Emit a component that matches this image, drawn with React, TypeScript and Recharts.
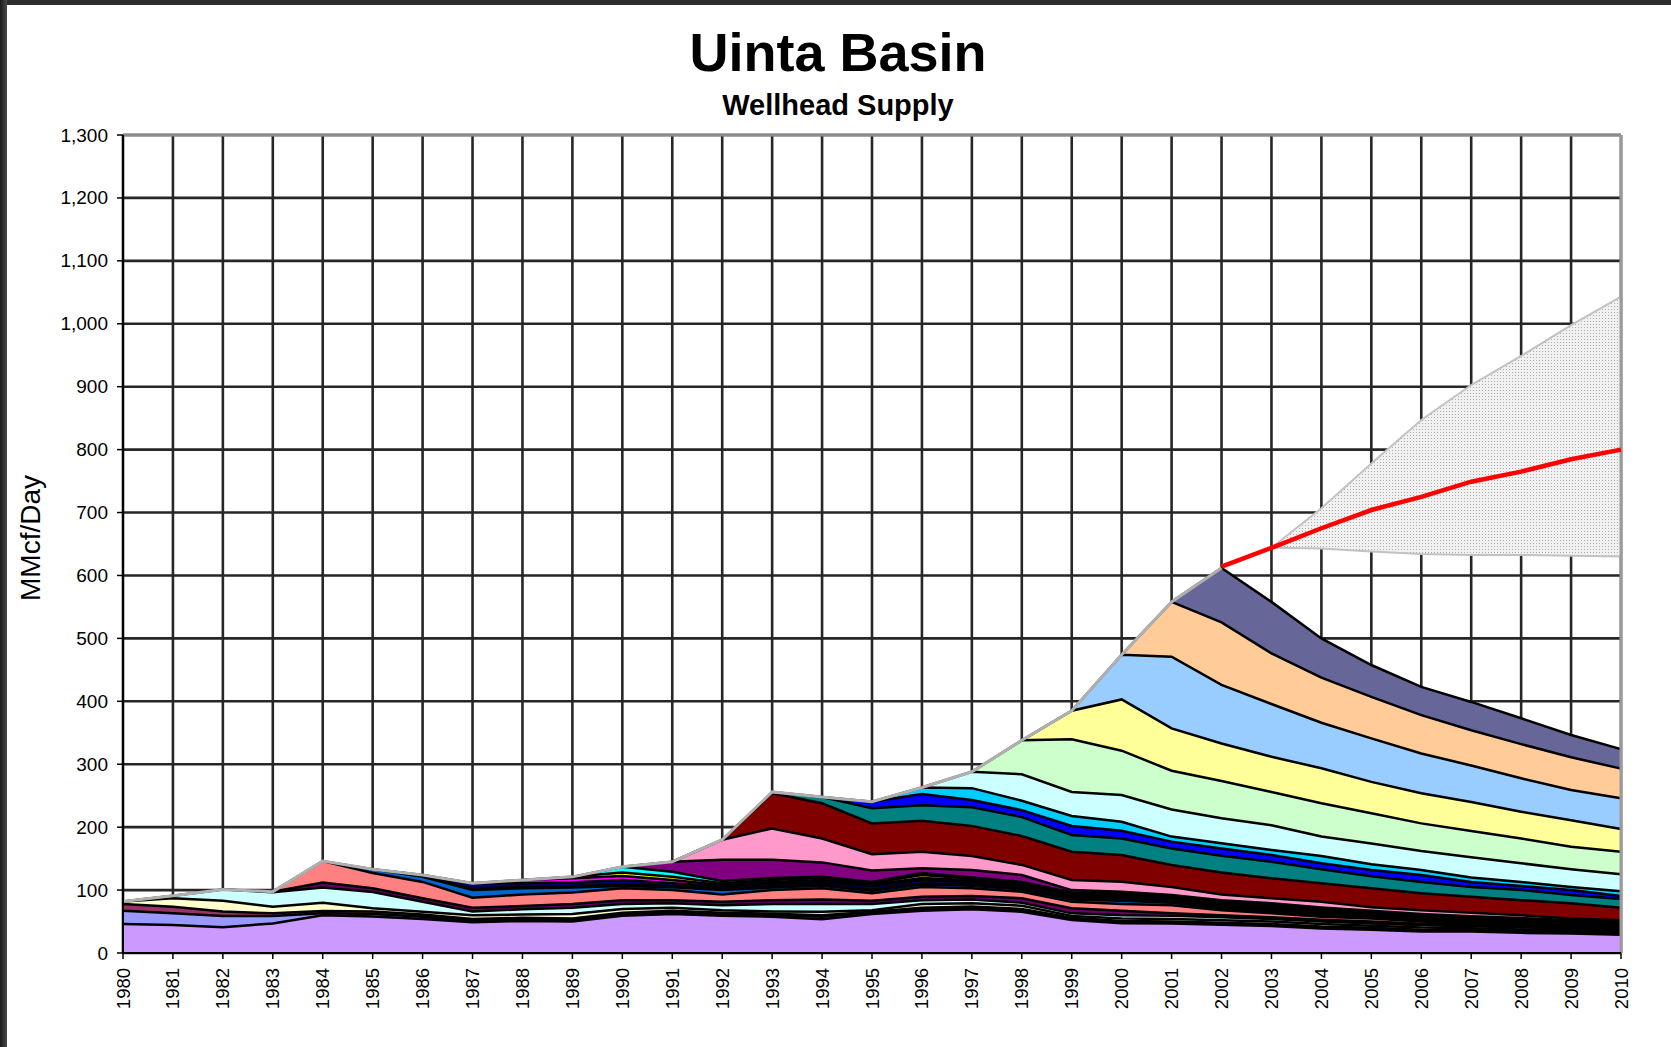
import React from 'react';
import { ComposedChart, Area, Line, XAxis, YAxis, CartesianGrid, ReferenceLine } from 'recharts';

const FONT = 'Liberation Sans, Arial, Helvetica, sans-serif';

const years = [1980, 1981, 1982, 1983, 1984, 1985, 1986, 1987, 1988, 1989, 1990, 1991, 1992, 1993, 1994, 1995, 1996, 1997, 1998, 1999, 2000, 2001, 2002, 2003, 2004, 2005, 2006, 2007, 2008, 2009, 2010];
const yTicks = [0, 100, 200, 300, 400, 500, 600, 700, 800, 900, 1000, 1100, 1200, 1300];

// Cumulative top edge of each vintage layer (MMcf/Day)
const n = null;
const lavenderTop = [46, 44.5, 41, 47, 60, 58, 54, 49, 51, 50, 59, 62, 59, 57.7, 53.5, 62, 67, 69.5, 65.6, 52.5, 47.2, 47, 45, 43, 39, 37, 34, 34, 32, 31, 29];
const periwinkleTop = [67, 63, 59, 59, 63, 62, 57.7, 51, 53, 52, 61, 64, 61.5, 60, 57.7, 64, 69, 71, 67, 54, 48.5, 48, 46, 44, 40, 38, 35, 35, 33, 32, 30];
const plumTop = [78, 73.6, 66, 63, 66.7, 66, 61, 54, 56, 55, 64, 67, 64, 62.5, 60, 65.6, 72, 74, 70, 56, 51, 50, 48, 46, 42, 40, 37, 36.5, 34.5, 33.5, 31.5];
const creamTop = [82, 87, 83, 73.6, 80, 71, 65.6, 60, 61, 62, 70, 72, 68, 66, 65.6, 68, 78, 79, 75, 59, 55, 54, 52, 50, 46, 43.5, 40.5, 39.5, 37.5, 36, 34];
const paleCyanTop = [82, 91, 101, 96.5, 104, 97, 81.5, 66, 69.5, 72, 78, 79, 76, 78, 78, 78, 84, 85, 80, 63, 60, 59, 57, 54, 50, 47, 44, 42.5, 40.5, 38.5, 36.5];
const darkPurpleTop = [n, n, 101, 97.5, 112, 103, 87, 72, 74.7, 78, 84, 84, 81.5, 84, 85, 83, 89.5, 90.6, 87, 71, 67, 63, 60, 57, 53, 50, 46.5, 45, 42.5, 40.5, 38];
const salmonTop = [n, n, n, 97.5, 146, 127, 113, 88, 93, 96, 103, 100, 93, 100, 103, 95, 105, 103, 97.4, 81.5, 78, 76, 68, 63, 57.7, 55, 50, 47, 44.5, 42, 39];
const oceanTop = [n, n, n, n, 146, 133, 121, 100, 103, 104, 106.5, 104.4, 100, 104, 107, 99, 109, 107, 101, 85, 83, 80, 71, 66, 60, 57, 52, 49, 46, 43.5, 40.5];
const lilacTop = [n, n, n, n, n, 133, 124, 103, 105, 106.5, 109, 106.5, 102, 106, 109, 101, 111, 109, 103, 87, 85, 82, 73, 68, 62, 58.5, 53.5, 50.5, 47.5, 45, 42];
const navyTop = [n, n, n, n, n, n, 124, 111, 111, 112, 116, 111, 106, 110, 113, 106, 116, 113, 107, 90, 88, 85, 76, 71, 65, 61, 56, 53, 50, 47, 44];
const magentaTop = [n, n, n, n, n, n, n, 111, 116, 118.7, 122.4, 116, 108, 113, 116, 108.5, 119, 115.5, 109.5, 92, 90.5, 87, 78, 73, 67, 62.5, 57.5, 54.5, 51.5, 48.5, 45.5];
const yellowTop = [n, n, n, n, n, n, n, n, 116, 121, 128, 121, 111, 116, 119, 111, 124, 118, 111, 94, 92.5, 89, 80, 75, 69, 64, 59, 56, 53, 50, 47];
const aquaTop = [n, n, n, n, n, n, n, n, n, 121, 137, 129, 114.4, 119, 121, 113, 127, 120, 113, 96, 94.5, 90.5, 82, 76.5, 70, 65, 60, 57, 54, 51, 48];
const purpleTop = [n, n, n, n, n, n, n, n, n, n, 137, 145, 148, 148, 144, 131, 134.6, 132, 124, 100, 97.4, 92, 84, 79, 72.5, 67, 62, 58.5, 55.5, 52.5, 49];
const pinkTop = [n, n, n, n, n, n, n, n, n, n, n, 145, 180, 198, 182, 157, 161, 154, 140, 116, 113.3, 105, 93, 87, 81.5, 72.6, 68, 64, 60, 55, 52];
const maroonTop = [n, n, n, n, n, n, n, n, n, n, n, n, 180, 254, 238, 206, 210, 202, 186, 161, 155.7, 140, 128, 118.7, 110.8, 103, 95, 89.5, 84, 79, 72];
const tealTop = [n, n, n, n, n, n, n, n, n, n, n, n, n, 256, 248, 230, 235, 231.5, 216, 187.5, 182, 166, 154.5, 145, 133, 122, 113, 105, 100, 92, 86];
const blueTop = [n, n, n, n, n, n, n, n, n, n, n, n, n, n, 248, 240.5, 252.7, 243, 227, 202, 194.4, 177, 166, 155.7, 142.6, 132, 124, 113, 106.5, 100, 90.5];
const skyTop = [n, n, n, n, n, n, n, n, n, n, n, n, n, n, n, 240.5, 263, 262, 242, 217.7, 208.7, 185, 174.5, 163.7, 154, 141, 132, 120, 113, 105, 98];
const iceTop = [n, n, n, n, n, n, n, n, n, n, n, n, n, n, n, n, 263, 288, 284, 256, 251, 228, 214, 203, 185, 174, 162, 152, 142.6, 133, 125];
const mintTop = [n, n, n, n, n, n, n, n, n, n, n, n, n, n, n, n, n, 288, 338, 339.6, 321.5, 289.7, 273.5, 256, 238, 222, 206, 194, 182, 169, 161];
const lemonTop = [n, n, n, n, n, n, n, n, n, n, n, n, n, n, n, n, n, n, 338, 385, 403, 357, 333, 312, 293.5, 272, 254, 240, 224.6, 211, 197];
const skyBlueTop = [n, n, n, n, n, n, n, n, n, n, n, n, n, n, n, n, n, n, n, 385, 474, 471, 426, 395.7, 366, 341, 317, 298, 277.6, 259, 246];
const peachTop = [n, n, n, n, n, n, n, n, n, n, n, n, n, n, n, n, n, n, n, n, 474, 558, 525.5, 476, 437.6, 407, 378, 354, 332, 311, 293];
const slateTop = [n, n, n, n, n, n, n, n, n, n, n, n, n, n, n, n, n, n, n, n, n, 558, 612, 558, 500, 457.7, 423, 399, 373, 346.5, 324];

const historicalTotal = [82, 91, 101, 97.5, 146, 133, 124, 111, 116, 121, 137, 145, 180, 256, 248, 240.5, 263, 288, 338, 385, 474, 558, 612, n, n, n, n, n, n, n, n];
const forecast = [n, n, n, n, n, n, n, n, n, n, n, n, n, n, n, n, n, n, n, n, n, n, 614, 644, 675, 704, 725, 749, 765, 784.6, 800];
const rangeLow = [n, n, n, n, n, n, n, n, n, n, n, n, n, n, n, n, n, n, n, n, n, n, n, 644, 643, 638, 634, 632.5, 632.5, 631.5, 630];
const rangeHigh = [n, n, n, n, n, n, n, n, n, n, n, n, n, n, n, n, n, n, n, n, n, n, n, 644, 706.7, 778, 847, 902.6, 948.8, 998, 1043];

const layers = [
  { key: 'lavender', color: '#CC99FF', values: lavenderTop },
  { key: 'periwinkle', color: '#9999FF', values: periwinkleTop },
  { key: 'plum', color: '#993366', values: plumTop },
  { key: 'cream', color: '#FFFFCC', values: creamTop },
  { key: 'paleCyan', color: '#CCFFFF', values: paleCyanTop },
  { key: 'darkPurple', color: '#660066', values: darkPurpleTop },
  { key: 'salmon', color: '#FF8080', values: salmonTop },
  { key: 'ocean', color: '#0066CC', values: oceanTop },
  { key: 'lilac', color: '#CCCCFF', values: lilacTop },
  { key: 'navy', color: '#000080', values: navyTop },
  { key: 'magenta', color: '#FF00FF', values: magentaTop },
  { key: 'yellow', color: '#FFFF00', values: yellowTop },
  { key: 'aqua', color: '#00FFFF', values: aquaTop },
  { key: 'purple', color: '#800080', values: purpleTop },
  { key: 'pink', color: '#FF99CC', values: pinkTop },
  { key: 'maroon', color: '#800000', values: maroonTop },
  { key: 'teal', color: '#008080', values: tealTop },
  { key: 'blue', color: '#0000FF', values: blueTop },
  { key: 'sky', color: '#00CCFF', values: skyTop },
  { key: 'ice', color: '#CCFFFF', values: iceTop },
  { key: 'mint', color: '#CCFFCC', values: mintTop },
  { key: 'lemon', color: '#FFFF99', values: lemonTop },
  { key: 'skyBlue', color: '#99CCFF', values: skyBlueTop },
  { key: 'peach', color: '#FFCC99', values: peachTop },
  { key: 'slate', color: '#666699', values: slateTop },
];

const data = years.map((year, i) => {
  const row: Record<string, any> = { year };
  layers.forEach((l) => {
    row[l.key] = l.values[i];
  });
  row.total = historicalTotal[i];
  row.forecast = forecast[i];
  row.range = rangeLow[i] != null && rangeHigh[i] != null ? [rangeLow[i], rangeHigh[i]] : null;
  return row;
});

const XTick = (props: any) => {
  const { x, y, payload } = props;
  return (
    <text
      transform={`translate(${x},${y + 7}) rotate(-90)`}
      textAnchor="end"
      dominantBaseline="central"
      fontSize={18.5}
      fontFamily={FONT}
      fill="#000"
    >
      {payload.value}
    </text>
  );
};

const YTick = (props: any) => {
  const { x, y, payload } = props;
  return (
    <text x={x} y={y} textAnchor="end" dominantBaseline="central" fontSize={19} fontFamily={FONT} fill="#000">
      {Number(payload.value).toLocaleString('en-US')}
    </text>
  );
};

export default function App() {
  return (
    <div style={{ position: 'absolute', left: 0, top: 0, width: 1671, height: 1047, background: '#fff', overflow: 'hidden' }}>
      <ComposedChart
        width={1671}
        height={1047}
        data={data}
        margin={{ top: 135, right: 50, bottom: 34, left: 63 }}
      >
        <defs>
          <pattern id="dots" width="3" height="3" patternUnits="userSpaceOnUse">
            <rect width="3" height="3" fill="#f1f1f1" />
            <rect width="1" height="1" fill="#adadad" />
          </pattern>
        </defs>
        <CartesianGrid stroke="#262626" strokeWidth={2.6} />
        <ReferenceLine y={1300} stroke="#8c8c8c" strokeWidth={3} />
        <ReferenceLine x={2010} stroke="#9a9a9a" strokeWidth={3} />
        <XAxis
          dataKey="year"
          type="number"
          domain={[1980, 2010]}
          ticks={years}
          interval={0}
          tickSize={6}
          height={60}
          tick={<XTick />}
          axisLine={{ stroke: '#000', strokeWidth: 2 }}
          tickLine={{ stroke: '#000', strokeWidth: 1.5 }}
        />
        <YAxis
          type="number"
          domain={[0, 1300]}
          ticks={yTicks}
          interval={0}
          width={60}
          tickSize={6}
          tickMargin={9}
          tick={<YTick />}
          axisLine={{ stroke: '#000', strokeWidth: 2 }}
          tickLine={{ stroke: '#000', strokeWidth: 1.5 }}
        />
        <Area
          dataKey="range"
          type="linear"
          fill="url(#dots)"
          fillOpacity={1}
          stroke="#c2c2c2"
          strokeWidth={2}
          dot={false}
          activeDot={false}
          isAnimationActive={false}
        />
        {[...layers].reverse().map((l) => (
          <Area
            key={l.key}
            dataKey={l.key}
            type="linear"
            fill={l.color}
            fillOpacity={1}
            stroke="#000"
            strokeWidth={2.5}
            dot={false}
            activeDot={false}
            isAnimationActive={false}
          />
        ))}
        <Line
          dataKey="total"
          type="linear"
          stroke="#b0b0b0"
          strokeWidth={3}
          dot={false}
          activeDot={false}
          isAnimationActive={false}
        />
        <Line
          dataKey="forecast"
          type="linear"
          stroke="#FF0000"
          strokeWidth={4.5}
          dot={false}
          activeDot={false}
          isAnimationActive={false}
        />
      </ComposedChart>
      <svg
        width={1671}
        height={1047}
        style={{ position: 'absolute', left: 0, top: 0, pointerEvents: 'none' }}
      >
        <text x={838} y={71} textAnchor="middle" fontSize={54} fontWeight="bold" fontFamily={FONT} fill="#000">
          Uinta Basin
        </text>
        <text x={838} y={115} textAnchor="middle" fontSize={29} fontWeight="bold" fontFamily={FONT} fill="#000">
          Wellhead Supply
        </text>
        <text
          transform="translate(30,538) rotate(-90)"
          textAnchor="middle"
          dominantBaseline="central"
          fontSize={28}
          fontFamily={FONT}
          fill="#000"
        >
          MMcf/Day
        </text>
      </svg>
      <div style={{ position: 'absolute', left: 0, top: 0, width: 1671, height: 5, background: '#2d2d2d' }} />
      <div style={{ position: 'absolute', left: 0, top: 0, width: 7, height: 1047, background: 'linear-gradient(to right, #1c1c1c, #4a4a4a)' }} />
    </div>
  );
}
